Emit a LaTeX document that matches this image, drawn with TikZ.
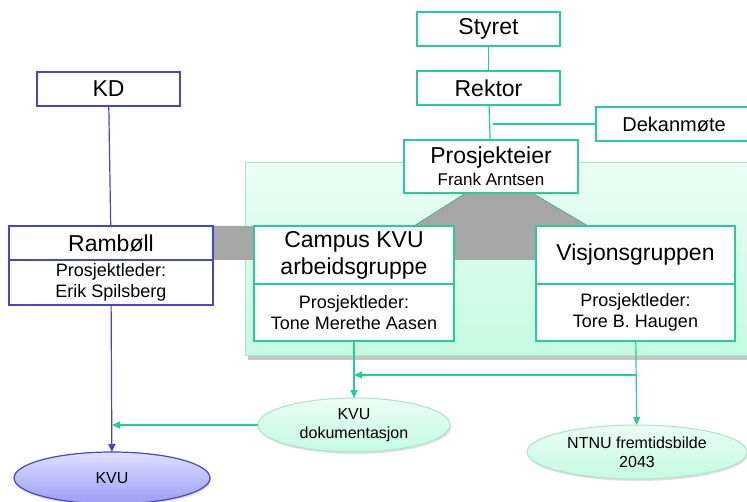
\documentclass[tikz,border=0pt]{standalone}
\usepackage{fontspec}
\setmainfont{Liberation Sans}
\usetikzlibrary{positioning,shapes.geometric,shadows,arrows.meta}
\definecolor{teal1}{RGB}{38,204,154}
\definecolor{blue1}{RGB}{68,68,214}
\definecolor{mint1}{RGB}{234,253,245}
\definecolor{mint2}{RGB}{196,250,226}
\definecolor{mintline}{RGB}{170,228,202}
\definecolor{lav1}{RGB}{224,224,255}
\definecolor{lav2}{RGB}{156,156,245}
\begin{document}
\begin{tikzpicture}[x=1pt, y=-1pt, outer sep=0pt, inner sep=0pt,
	big/.style={font=\fontsize{23}{27}\selectfont},
	mid/.style={font=\fontsize{18}{21}\selectfont},
	sml/.style={font=\fontsize{16}{19}\selectfont},
	bb/.style={draw=blue1, fill=white, line width=1.2pt, align=center},
	gb/.style={draw=teal1, fill=white, line width=1.2pt, align=center},
	ge/.style={ellipse, draw=mintline, line width=1pt, top color=mint1, bottom color=mint2, align=center, sml, drop shadow={opacity=.25, shadow xshift=1pt, shadow yshift=-2pt}},
	gl/.style={teal1, line width=1.2pt},
	bl/.style={blue1, line width=1.2pt},
	a/.style={-{Triangle[length=8pt,width=7pt]}}]
		\clip (0,0) rectangle (747,502);

		% green panel and grey connector
		\fill[black!22] (248,167) rectangle (760,360);
		\draw[draw=mintline, line width=1pt, top color=mint1, bottom color=mint2] (245,163) rectangle (760,356);
		\fill[gray!70] (466,193) -- (532,193) -- (588,226) -- (588,260) -- (213,260) -- (213,226) -- (414,226) -- cycle;
		\draw[teal1!60!gray, line width=.8pt] (414,226) -- (466,193) (532,193) -- (588,226);

		\node[bb, big, minimum width=143pt, minimum height=34pt] (kd) at (108.5,89) {KD};
		\node[gb, big, minimum width=143pt, minimum height=34pt] (styret) at (488.5,29) {Styret};
		\node[gb, big, minimum width=143pt, minimum height=34pt] (rektor) at (488.5,88) {Rektor};
		\node[gb, font=\fontsize{20}{22}\selectfont, minimum width=156pt, minimum height=34pt] (dekan) at (674,124) {Dekanm\o te};
		\node[gb, font=\fontsize{17}{22}\selectfont, minimum width=174pt, minimum height=53pt] (eier) at (491,166.5) {{\fontsize{23}{22}\selectfont Prosjekteier}\\Frank Arntsen};

		\node[bb, big, minimum width=204pt, minimum height=34pt] (rambol) at (111,243) {Ramb\o ll};
		\node[bb, mid, minimum width=204pt, minimum height=45pt, below=0pt of rambol] (rambolPL) {Prosjektleder:\\Erik Spilsberg};
		\node[gb, big, minimum width=200pt, minimum height=58pt] (campus) at (354,255) {Campus KVU\\arbeidsgruppe};
		\node[gb, mid, minimum width=200pt, minimum height=57pt, below=0pt of campus] (campusPL) {Prosjektleder:\\Tone Merethe Aasen};
		\node[gb, big, minimum width=199pt, minimum height=58pt] (visjon) at (635.5,255) {Visjonsgruppen};
		\node[gb, mid, minimum width=199pt, minimum height=57pt, below=0pt of visjon] (visjonPL) {Prosjektleder:\\Tore B. Haugen};

		\node[ge, minimum width=192pt, minimum height=54pt] (kvudok) at (354,425) {KVU\\dokumentasjon};
		\node[ge, minimum width=220pt, minimum height=54pt] (ntnu) at (637,452) {NTNU fremtidsbilde\\2043};
		\node[ellipse, draw=blue1, line width=1.2pt, top color=lav1, bottom color=lav2, sml, minimum width=196pt, minimum height=52pt, drop shadow={opacity=.25, shadow xshift=1pt, shadow yshift=-2pt}] (kvu) at (112,478) {KVU};

		\coordinate (dek) at (493,124);
		\coordinate (br) at (636,375);
		\coordinate (brend) at (354,375);

		\draw[bl] (kd) -- (rambol);
		\draw[bl, a] (rambolPL) -- (kvu);
		\draw[gl] (styret) -- (rektor);
		\draw[gl] (rektor) -- (eier);
		\draw[gl] (dek) -- (dekan);
		\draw[gl, a] (campusPL) -- (kvudok);
		\draw[gl, a] (visjonPL) -- (ntnu);
		\draw[gl, a] (br) -- (brend);
		\draw[gl, a] (kvudok.west) -- (kvudok.west -| kvu.north);
	\end{tikzpicture}
\end{document}
